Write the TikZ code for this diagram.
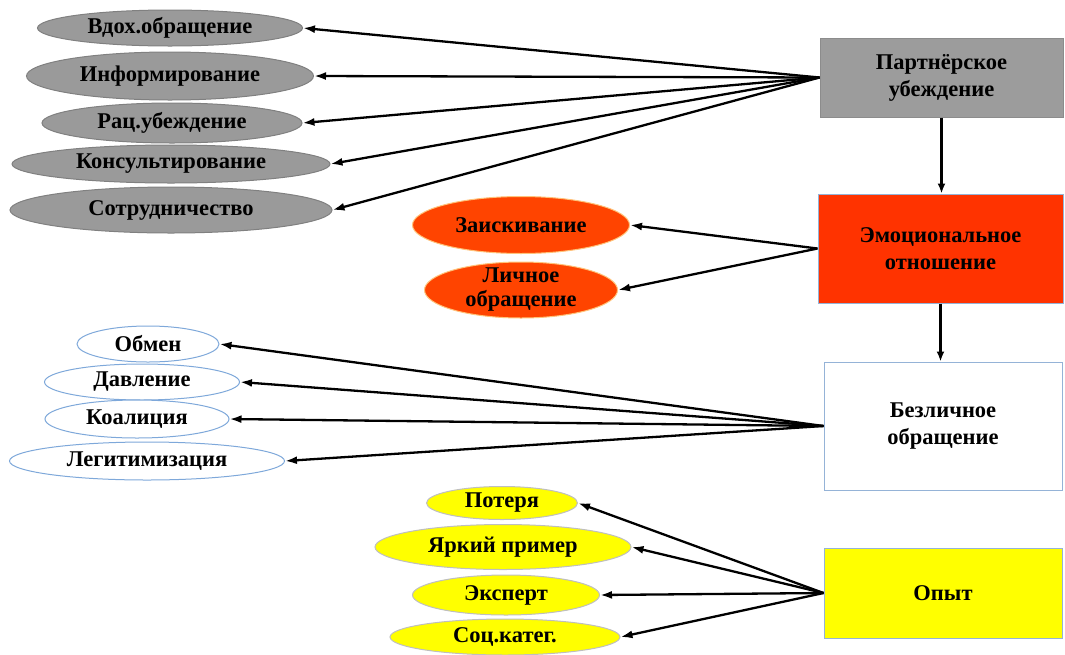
\documentclass[tikz,border=0pt]{standalone}
\usepackage{fontspec}
\setmainfont{Liberation Serif}
\usetikzlibrary{arrows.meta,shapes.geometric}
\definecolor{ellgray}{HTML}{9A9A9A}
\definecolor{boxgray}{HTML}{9C9C9C}
\definecolor{emored}{HTML}{FF3300}
\definecolor{ellred}{HTML}{FF4400}
\definecolor{lineorange}{HTML}{FFC37A}
\definecolor{lineblue}{HTML}{7EA8DA}
\definecolor{boxblue}{HTML}{95B3D7}
\definecolor{sunyellow}{HTML}{FFFF00}

\begin{document}
\begin{tikzpicture}[x=1pt, y=-1pt]
\tikzstyle{main}=[ellipse, inner sep=0pt, line width=1pt, align=center, font=\fontsize{22.5}{24}\selectfont\bfseries]
\tikzstyle{grey}=[main, fill=ellgray, draw=black!50]
\tikzstyle{hot}=[main, fill=ellred, draw=lineorange]
\tikzstyle{plain}=[main, fill=white, draw=lineblue]
\tikzstyle{sunny}=[main, fill=sunyellow, draw=black!25]
\tikzstyle{rect}=[rectangle, inner sep=0pt, line width=1pt, align=center, font=\fontsize{22.5}{27}\selectfont\bfseries]
\tikzstyle{connect}=[-{Latex[length=12pt, width=8pt]}, line width=2.3pt]
\tikzstyle{down}=[-{Latex[length=10pt, width=8pt]}, line width=2.2pt]

  \useasboundingbox (0,0) rectangle (1065,654);

  % right column
  \node[rect, fill=boxgray, draw=black!45, minimum width=243pt, minimum height=79pt] (partner) at (941.5,77.5) {Партнёрское\\убеждение};
  \node[rect, fill=emored, draw=boxblue, minimum width=245pt, minimum height=109pt] (emotion) at (940.5,248.5) {Эмоциональное\\отношение};
  \node[rect, fill=white, draw=boxblue, minimum width=238pt, minimum height=128pt] (imperson) at (943,426) {Безличное\\обращение};
  \node[rect, fill=sunyellow, draw=boxblue, minimum width=238pt, minimum height=90pt] (experience) at (943,593) {Опыт};

  % grey ellipses
  \node[grey, minimum width=265pt, minimum height=36pt] (vdoh)    at (170,28)  {Вдох.обращение};
  \node[grey, minimum width=287pt, minimum height=48pt] (inform)  at (170,76)  {Информирование};
  \node[grey, minimum width=260pt, minimum height=40pt] (rats)    at (172,123) {Рац.убеждение};
  \node[grey, minimum width=318pt, minimum height=38pt] (konsult) at (171,164) {Консультирование};
  \node[grey, minimum width=322pt, minimum height=46pt] (sotrud)  at (171,210) {Сотрудничество};

  % red ellipses
  \node[hot, minimum width=217pt, minimum height=57pt] (zaisk) at (521,225) {Заискивание};
  \node[hot, inner ysep=-5pt, minimum width=193pt, minimum height=56pt] (lichn) at (521,290) {Личное\\обращение};

  % white ellipses
  \node[plain, minimum width=142pt, minimum height=36pt] (obmen) at (148,344) {Обмен};
  \node[plain, minimum width=195pt, minimum height=36pt] (davl)  at (142,382) {Давление};
  \node[plain, minimum width=184pt, minimum height=38pt] (koal)  at (137,419) {Коалиция};
  \node[plain, minimum width=275pt, minimum height=38pt] (legit) at (147,461) {Легитимизация};

  % yellow ellipses
  \node[sunny, minimum width=151pt, minimum height=33pt] (poterya) at (502,503) {Потеря};
  \node[sunny, minimum width=256pt, minimum height=45pt] (yarkiy)  at (503,547) {Яркий пример};
  \node[sunny, minimum width=187pt, minimum height=40pt] (expert)  at (506,595) {Эксперт};
  \node[sunny, minimum width=230pt, minimum height=36pt] (sotskat) at (505,637) {Соц.катег.};

  % connections
  \path (partner.west) edge [connect] (vdoh.east);
  \path (partner.west) edge [connect] (inform.east);
  \path (partner.west) edge [connect] (rats.east);
  \path (partner.west) edge [connect] (konsult.east);
  \path (partner.west) edge [connect] (sotrud.east);

  \path (emotion.west) edge [connect] (zaisk.east);
  \path (emotion.west) edge [connect] (lichn.east);

  \path (imperson.west) edge [connect] (obmen.east);
  \path (imperson.west) edge [connect] (davl.east);
  \path (imperson.west) edge [connect] (koal.east);
  \path (imperson.west) edge [connect] (legit.east);

  \path (experience.west) edge [connect] (poterya.east);
  \path (experience.west) edge [connect] (yarkiy.east);
  \path (experience.west) edge [connect] (expert.east);
  \path (experience.west) edge [connect] (sotskat.east);

  \draw[down] (partner.south) -- (partner.south |- emotion.north);
  \draw[down] (emotion.south) -- (emotion.south |- imperson.north);

\end{tikzpicture}
\end{document}
